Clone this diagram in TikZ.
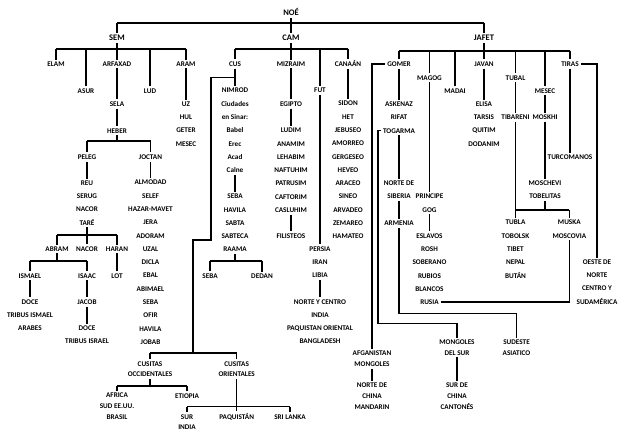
\documentclass[tikz,border=0pt]{standalone}
\usepackage{fontspec}
\setmainfont{Carlito}
\usetikzlibrary{calc,positioning}

\begin{document}
\begin{tikzpicture}[x=1bp,y=-1bp,line width=1.3bp,
  nombre/.style={font=\fontsize{7.2bp}{13.3bp}\selectfont\bfseries, align=center, inner sep=1.5bp},
  pueblo/.style={nombre, font=\fontsize{7.2bp}{10.7bp}\selectfont\bfseries},
  jefe/.style={nombre, font=\fontsize{8.5bp}{10bp}\selectfont\bfseries}]

\fill[white] (0,0) rectangle (627,440);
\useasboundingbox (0,0) rectangle (627,440);

%Nodes
\node[jefe]   (noe)     at (291,12)  {NOÉ};
\node[jefe]   (sem)     at (117,38)  {SEM};
\node[jefe]   (cam)     at (291,38)  {CAM};
\node[jefe]   (jafet)   at (484,38)  {JAFET};

% Sem
\node[nombre] (elam)    at (56,64)   {ELAM};
\node[nombre] (asur)    at (86,90.7) {ASUR};
\node[nombre] (arfaxad) at (117,64)  {ARFAXAD};
\node[nombre] (lud)     at (150,90.7) {LUD};
\node[nombre] (aram)    at (186,64)  {ARAM};
\node[nombre] (uz)      at (186,124) {UZ\\HUL\\GETER\\MESEC};
\node[nombre] (sela)    at (117,104) {SELA};
\node[nombre] (heber)   at (117,130.7) {HEBER};
\node[nombre] (peleg)   at (87,157)  {PELEG};
\node[nombre] (joctan)  at (150.5,157) {JOCTAN};
\node[nombre] (reu)     at (87,203)  {REU\\SERUG\\NACOR\\TARÉ};
\node[nombre] (almodad) at (150.5,262.3) {ALMODAD\\SELEF\\HAZAR-MAVET\\JERA\\ADORAM\\UZAL\\DICLA\\EBAL\\ABIMAEL\\SEBA\\OFIR\\HAVILA\\JOBAB};
\node[nombre] (abram)   at (57,249)  {ABRAM};
\node[nombre] (nacor)   at (87,249)  {NACOR};
\node[nombre] (haran)   at (117,249) {HARAN};
\node[nombre] (lot)     at (117,275.7) {LOT};
\node[nombre] (ismael)  at (30,275.7) {ISMAEL};
\node[nombre] (isaac)   at (87,275.7) {ISAAC};
\node[nombre] (doceism) at (30,315)  {DOCE\\TRIBUS ISMAEL\\ARABES};
\node[nombre] (jacob)   at (87,302)  {JACOB};
\node[nombre] (doceisr) at (87,335)  {DOCE\\TRIBUS ISRAEL};

% Cam
\node[nombre] (cus)     at (235,64)  {CUS};
\node[nombre] (mizraim) at (291,64)  {MIZRAIM};
\node[nombre] (fut)     at (320,90.3) {FUT};
\node[nombre] (canaan)  at (348,64)  {CANAÁN};
\node[nombre] (nimrod)  at (235,130.5) {NIMROD\\Ciudades\\en Sinar:\\Babel\\Erec\\Acad\\Calne};
\node[nombre] (sebacus) at (235,223) {SEBA\\HAVILA\\SABTA\\SABTECA\\RAAMA};
\node[nombre] (seba)    at (210,276) {SEBA};
\node[nombre] (dedan)   at (262,276) {DEDAN};
\node[nombre] (egipto)  at (291,104) {EGIPTO};
\node[nombre] (ludim)   at (291,170.3) {LUDIM\\ANAMIM\\LEHABIM\\NAFTUHIM\\PATRUSIM\\CAFTORIM\\CASLUHIM};
\node[nombre] (filisteos) at (291,236) {FILISTEOS};
\node[nombre] (persia)  at (320,262.3) {PERSIA\\IRAN\\LIBIA};
\node[nombre] (india)   at (320,321.7) {NORTE Y CENTRO\\INDIA\\PAQUISTAN ORIENTAL\\BANGLADESH};
\node[nombre] (sidon)   at (348,170) {SIDON\\HET\\JEBUSEO\\AMORREO\\GERGESEO\\HEVEO\\ARACEO\\SINEO\\ARVADEO\\ZEMAREO\\HAMATEO};
\node[pueblo] (cusocc)  at (150,369.3) {CUSITAS\\OCCIDENTALES};
\node[pueblo] (cusori)  at (236.7,369.3) {CUSITAS\\ORIENTALES};
\node[pueblo] (africa)  at (117,406.3) {AFRICA\\SUD EE.UU.\\BRASIL};
\node[pueblo] (etiopia) at (187,396) {ETIOPIA};
\node[pueblo] (surind)  at (187,422) {SUR\\INDIA};
\node[pueblo] (paquis)  at (236.7,417) {PAQUISTÁN};
\node[pueblo] (srilanka) at (290,417) {SRI LANKA};

% Jafet
\node[nombre] (gomer)   at (399,64)  {GOMER};
\node[nombre] (magog)   at (429.5,77.7) {MAGOG};
\node[nombre] (madai)   at (455,90.7) {MADAI};
\node[nombre] (javan)   at (484,64)  {JAVAN};
\node[nombre] (tubal)   at (515.5,77.7) {TUBAL};
\node[nombre] (mesec)   at (545,90.7) {MESEC};
\node[nombre] (tiras)   at (570,64)  {TIRAS};
\node[nombre] (askenaz) at (399,110.7) {ASKENAZ\\RIFAT};
\node[nombre] (togarma) at (399,130.7) {TOGARMA};
\node[nombre] (siberia) at (399,190) {NORTE DE\\SIBERIA};
\node[nombre] (armenia) at (399,223.3) {ARMENIA};
\node[nombre] (principe) at (429.5,203.3) {PRINCIPE\\GOG};
\node[nombre] (eslavos) at (429.5,262.5) {ESLAVOS\\ROSH\\SOBERANO\\RUBIOS\\BLANCOS};
\node[nombre] (rusia)   at (429.5,302) {RUSIA};
\node[nombre] (elisa)   at (484,124) {ELISA\\TARSIS\\QUITIM\\DODANIM};
\node[nombre] (tibareni) at (515.5,117.3) {TIBARENI};
\node[nombre] (moskhi)  at (545,117.3) {MOSKHI};
\node[nombre] (moschevi) at (545,190) {MOSCHEVI\\TOBELITAS};
\node[nombre] (turcomanos) at (570,157.3) {TURCOMANOS};
\node[nombre] (tubla)   at (515.5,249.2) {TUBLA\\TOBOLSK\\TIBET\\NEPAL\\BUTÁN};
\node[nombre] (muska)   at (569.3,229.3) {MUSKA\\MOSCOVIA};
\node[nombre] (oeste)   at (597,282) {OESTE DE\\NORTE\\CENTRO Y\\SUDAMÉRICA};
\node[pueblo] (afgan)   at (372,358.7) {AFGANISTAN\\MONGOLES};
\node[pueblo] (mandarin) at (372,396) {NORTE DE\\CHINA\\MANDARIN};
\node[pueblo] (mongsur) at (457,347.5) {MONGOLES\\DEL SUR};
\node[pueblo] (cantones) at (457,396) {SUR DE\\CHINA\\CANTONÉS};
\node[pueblo] (sudeste) at (516.5,347.5) {SUDESTE\\ASIATICO};

%Bars
\coordinate (noebar)   at (291,23);
\coordinate (sembar)   at (117,49);
\coordinate (cambar)   at (291,49);
\coordinate (jafetbar) at (484,51);
\coordinate (heberbar) at (117,141);
\coordinate (tarebar)  at (87,235);
\coordinate (abrambar) at (57,261);
\coordinate (raamabar) at (235,261);
\coordinate (occbar)   at (150,386);
\coordinate (oribar)   at (236.7,406.7);
\coordinate (tobebar)  at (545,210);
\coordinate (cusk)     at ($(cus.south)!0.5!(nimrod.north)$);
\coordinate (cusa)     at (211,240);
\coordinate (cusb)     at (193,353);
\coordinate (togbar)   at (378,323.3);
\coordinate (armbar)   at (399,313.3);

%Lines
\draw (noe) -- (cam);
\draw (noebar -| sem) -- (noebar -| jafet);
\foreach \h in {sem,jafet} \draw (noebar -| \h) -- (\h);

\draw (sem) -- (arfaxad);
\draw (sembar -| elam) -- (sembar -| aram);
\foreach \h in {elam,asur,lud,aram} \draw (sembar -| \h) -- (\h);
\draw (aram) -- (uz);
\draw (arfaxad) -- (sela);
\draw (sela) -- (heber);
\draw (heber) -- (heberbar);
\draw (heberbar -| peleg) -- (heberbar -| joctan);
\foreach \h in {peleg,joctan} \draw (heberbar -| \h) -- (\h);
\draw (peleg) -- (reu);
\draw (joctan) -- (almodad);
\draw (reu) -- (nacor);
\draw (tarebar -| abram) -- (tarebar -| haran);
\foreach \h in {abram,haran} \draw (tarebar -| \h) -- (\h);
\draw (haran) -- (lot);
\draw (abram) -- (abrambar);
\draw (abrambar -| ismael) -- (abrambar -| isaac);
\foreach \h in {ismael,isaac} \draw (abrambar -| \h) -- (\h);
\draw (ismael) -- (doceism);
\draw (isaac) -- (jacob);
\draw (jacob) -- (doceisr);

\draw (cam) -- (mizraim);
\draw (cambar -| cus) -- (cambar -| canaan);
\foreach \h in {cus,fut,canaan} \draw (cambar -| \h) -- (\h);
\draw (cus) -- (nimrod);
\draw (nimrod) -- (sebacus);
\draw (sebacus) -- (raamabar);
\draw (raamabar -| seba) -- (raamabar -| dedan);
\foreach \h in {seba,dedan} \draw (raamabar -| \h) -- (\h);
\draw (mizraim) -- (egipto);
\draw (egipto) -- (ludim);
\draw (ludim) -- (filisteos);
\draw (fut) -- (persia);
\draw (persia) -- (india);
\draw (canaan) -- (sidon);

\draw (cusk) -| (cusa) -| (cusb);
\draw (cusb -| cusocc) -- (cusb -| cusori);
\foreach \h in {cusocc,cusori} \draw (cusb -| \h) -- (\h);
\draw (cusocc) -- (occbar);
\draw (occbar -| africa) -- (occbar -| etiopia);
\foreach \h in {africa,etiopia} \draw (occbar -| \h) -- (\h);
\draw (cusori) -- (oribar);
\draw (oribar -| surind) -- (oribar -| srilanka);
\foreach \h in {surind,paquis,srilanka} \draw (oribar -| \h) -- (\h);

\draw (jafet) -- (javan);
\draw (jafetbar -| gomer) -- (jafetbar -| tiras);
\foreach \h in {gomer,magog,madai,tubal,mesec,tiras} \draw (jafetbar -| \h) -- (\h);
\draw (gomer) -- (askenaz);
\draw (gomer) -| (afgan);
\draw (afgan) -- (mandarin);
\draw (togarma) -- (siberia);
\draw (siberia) -- (armenia);
\draw (togarma) -| (togbar) -| (mongsur);
\draw (mongsur) -- (cantones);
\draw (armenia) -- (armbar) -| (sudeste);
\draw (magog) -- (principe);
\draw (principe) -- (eslavos);
\draw (rusia) -| (muska);
\draw (javan) -- (elisa);
\draw (tubal) -- (tibareni);
\draw (tibareni) -- (tubla);
\draw (mesec) -- (moskhi);
\draw (moskhi) -- (moschevi);
\draw (moschevi) -- (tobebar);
\draw (tobebar -| tubla) -- (tobebar -| muska);
\draw (tobebar -| muska) -- (muska);
\draw (tiras) -- (turcomanos);
\draw (tiras) -| (oeste);

\end{tikzpicture}
\end{document}
